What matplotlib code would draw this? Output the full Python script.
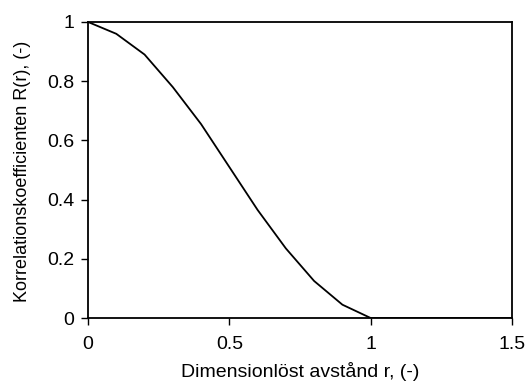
import matplotlib
matplotlib.use("Agg")
import matplotlib.pyplot as plt

# values
r = [0.0, 0.1, 0.2, 0.3, 0.4, 0.5, 0.6, 0.7, 0.8, 0.9, 1.0, 1.1, 1.2, 1.3, 1.4, 1.5]
R = [1.0, 0.96, 0.89, 0.78, 0.655, 0.51, 0.365, 0.235, 0.125, 0.045, 0.0, 0.0, 0.0, 0.0, 0.0, 0.0]

x_ticks = [0, 0.5, 1, 1.5]
x_tick_labels = ["0", "0.5", "1", "1.5"]
y_ticks = [0, 0.2, 0.4, 0.6, 0.8, 1]
y_tick_labels = ["0", "0.2", "0.4", "0.6", "0.8", "1"]

plt.rcParams["font.family"] = ["Liberation Sans", "DejaVu Sans"]

fig = plt.figure(figsize=(5.28, 3.82), dpi=100)
ax = fig.add_axes([0.1667, 0.1675, 0.803, 0.775])

ax.plot(r, R, color="black", linewidth=1.3)

ax.set_xlim(0, 1.5)
ax.set_ylim(0, 1)
ax.set_xticks(x_ticks)
ax.set_xticklabels(x_tick_labels)
ax.set_yticks(y_ticks)
ax.set_yticklabels(y_tick_labels)
ax.tick_params(direction="out", length=5, width=1, labelsize=14, colors="black")
ax.tick_params(axis="x", pad=8)
ax.tick_params(axis="y", pad=5)
for s in ax.spines.values():
    s.set_linewidth(1.3)

ax.set_xlabel("Dimensionlöst avstånd r, (-)", fontsize=14)
ax.set_ylabel("Korrelationskoefficienten R(r), (-)", fontsize=13)
ax.xaxis.set_label_coords(0.5, -0.182)
ax.yaxis.set_label_coords(-0.155, 0.497)
ax.xaxis.label.set_va("center")
ax.yaxis.label.set_va("center")

plt.savefig("out.png", dpi=100)
